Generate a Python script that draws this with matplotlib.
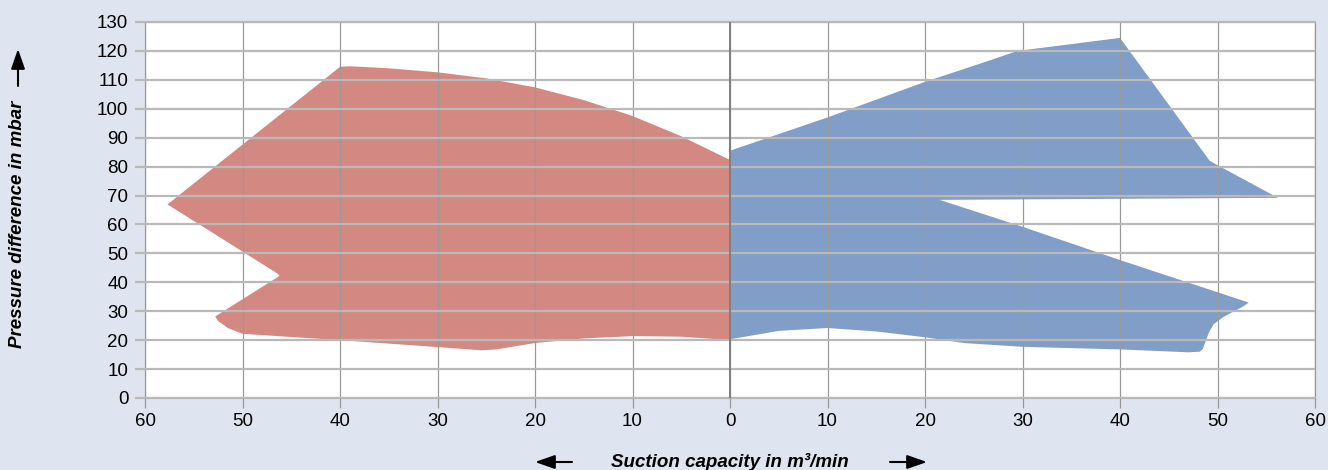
import matplotlib.pyplot as plt
import numpy as np

# operating range, left side (suction capacity shown to the left)
red_x = [0, -5, -10, -15, -20, -25, -30, -35, -39, -40, -57.7, -57.4,
         -46.4, -46.2, -52.8, -52.5, -51.5, -50, -40, -30, -25.5, -24,
         -20, -15, -10, -5, 0]
red_y = [82.3, 90.5, 97.5, 103, 107.4, 110.5, 112.6, 114, 114.7, 114.5, 66.9, 66.3,
         43.0, 42.2, 28.2, 26.6, 24.2, 22.2, 20, 17.6, 16.5, 16.8,
         19, 20.6, 21.4, 21.2, 20]

# operating range, right side
blue_x = [0, 10, 20, 26, 29.5, 40, 49.2, 50, 56.2, 21.5, 30, 40, 53.2, 52.6,
          50.6, 49.6, 49.1, 48.5, 48.2, 47, 40, 30, 24, 20, 15, 10, 5, 0]
blue_y = [85.5, 97, 109.3, 116, 120, 124.5, 82, 80.5, 69.2, 68.5, 59.2, 47.7, 33, 31.6,
          28, 25.5, 22.5, 17, 16, 15.8, 16.8, 17.7, 19, 21, 23, 24.2, 23.2, 20.3]

x_ticks = list(range(-60, 61, 10))
x_labels = [str(abs(t)) for t in x_ticks]
y_ticks = list(range(0, 131, 10))

BG = "#dfe5f0"
RED = "#d48882"
BLUE = "#819ec8"

plt.rcParams["font.family"] = ["Liberation Sans", "DejaVu Sans"]

fig = plt.figure(figsize=(13.28, 4.70), dpi=100, facecolor=BG)
ax = fig.add_axes([145 / 1328, 1 - 398 / 470, 1170 / 1328, 376 / 470])
ax.set_facecolor("white")

ax.fill(red_x, red_y, color=RED, lw=0, zorder=1)
ax.fill(blue_x, blue_y, color=BLUE, lw=0, zorder=1)

ax.set_xlim(-60, 60)
ax.set_ylim(0, 130)
ax.set_xticks(x_ticks)
ax.set_xticklabels(x_labels)
ax.set_yticks(y_ticks)

ax.set_axisbelow(False)
ax.grid(axis="y", color="#b9b9b9", lw=1.6, zorder=2)
ax.grid(axis="x", color="#999999", lw=0.9, zorder=2)
ax.axvline(0, color="#7f7f7f", lw=1.4, zorder=3)

for side in ("top", "bottom"):
    ax.spines[side].set_color("#b9b9b9")
    ax.spines[side].set_linewidth(1.6)
for side in ("left", "right"):
    ax.spines[side].set_color("#999999")
    ax.spines[side].set_linewidth(0.9)

ax.tick_params(axis="y", length=7, width=1.6, color="#b9b9b9", labelsize=13.5, pad=5)
ax.tick_params(axis="x", length=7, width=0.9, color="#999999", labelsize=13.5, pad=4)

label_kw = dict(fontsize=13.5, fontweight="bold", fontstyle="italic", color="black")
fig.text(730, 8, "Suction capacity in m³/min", transform=None,
         ha="center", va="center", **label_kw)
fig.text(18, 246, "Pressure difference in mbar", transform=None,
         ha="center", va="center", rotation=90, **label_kw)

arrow = dict(arrowstyle="-|>,head_length=1.2,head_width=0.42", color="black", lw=1.5,
             shrinkA=0, shrinkB=0)
ax.annotate("", xy=(535, 8), xytext=(572, 8), xycoords="figure pixels",
            textcoords="figure pixels", arrowprops=arrow)
ax.annotate("", xy=(927, 8), xytext=(890, 8), xycoords="figure pixels",
            textcoords="figure pixels", arrowprops=arrow)
ax.annotate("", xy=(18, 421), xytext=(18, 384), xycoords="figure pixels",
            textcoords="figure pixels", arrowprops=arrow)

fig.savefig("out.png", dpi=100, facecolor=BG)
